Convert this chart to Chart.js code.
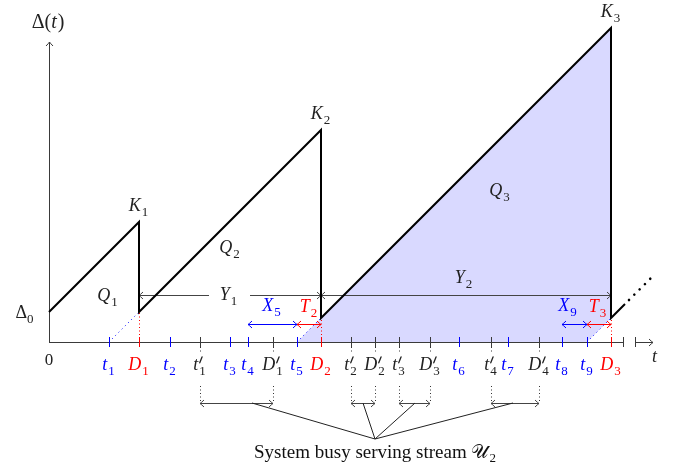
<!DOCTYPE html>
<html>
<head>
<meta charset="utf-8">
<script src="https://cdn.jsdelivr.net/npm/chart.js@4.4.1/dist/chart.umd.min.js"></script>
<style>
html,body{margin:0;padding:0;background:#fff;}
canvas{display:block;}
</style>
</head>
<body>
<canvas id="c" width="673" height="472"></canvas>
<script>
// ---- data (time / age units) ----
const arrivalTimes = [60, 121, 181, 199, 248, 410, 459, 513, 538];           // t1..t9 (stream 1)
const arrivalLabels = ["t_1","t_2","t_3","t_4","t_5","t_6","t_7","t_8","t_9"];
const departureTimes = [90, 272, 562];                                         // D1..D3
const departureLabels = ["D_1","D_2","D_3"];
const otherTimes = [151, 224, 302, 326, 350, 381, 442, 490];                   // stream 2 arrivals / departures
const otherLabels = ["t'_1","D'_1","t'_2","D'_2","t'_3","D'_3","t'_4","D'_4"];
const ageTimes = [0, 90, 90, 272, 272, 562, 562, 576];                        // age curve Δ(t)
const ageValues = [30, 120, 30, 212, 24, 314, 24, 38];
const tailTimes = [580, 603];
const tailValues = [42, 65];
const peakLabels = ["K_1","K_2","K_3"];
const areaLabels = ["Q_1","Q_2","Q_3"];
const busyLinkTimes = [203, 314, 366, 464];
const busyHub = [326, -97];
const axisEnd = 574, axisArrowStart = 586, axisArrowEnd = 604;

const FONT = '"Liberation Serif", "Times New Roman", serif';

function mathLayout(ctx, str, size) {
  const chars = Array.from(str);
  const items = [];
  let i = 0;
  while (i < chars.length) {
    const base = chars[i]; i++;
    let sup = false, sub = null;
    if (chars[i] === "'") { sup = true; i++; }
    if (chars[i] === "_") { sub = chars[i + 1]; i += 2; }
    items.push({ base, sup, sub });
  }
  let w = 0;
  const ssz = Math.round(size * 0.7);
  for (const it of items) {
    const italic = /[A-Za-z]/.test(it.base);
    it.font = (italic ? "italic " : "") + size + "px " + FONT;
    ctx.font = it.font;
    it.bw = ctx.measureText(it.base).width + (italic ? 1 : 0);
    let ew = 0;
    it.sfont = ssz + "px " + FONT;
    ctx.font = it.sfont;
    if (it.sub) ew = Math.max(ew, ctx.measureText(it.sub).width + 1);
    if (it.sup) ew = Math.max(ew, 5);
    it.ew = ew;
    w += it.bw + ew;
  }
  return { items, w, ssz };
}
function drawMath(ctx, str, cx, cy, color, size) {
  size = size || 18;
  const L = mathLayout(ctx, str, size);
  let x = cx - L.w / 2;
  const base = cy + size * 0.3;
  ctx.fillStyle = color;
  ctx.strokeStyle = color;
  ctx.textAlign = "left";
  ctx.textBaseline = "alphabetic";
  for (const it of L.items) {
    ctx.font = it.font;
    ctx.fillText(it.base, x, base);
    x += it.bw;
    ctx.font = it.sfont;
    if (it.sup) {
      ctx.save(); ctx.lineWidth = 1.3; ctx.lineCap = "round";
      ctx.beginPath();
      ctx.moveTo(x + 0.5, base - size * 0.42);
      ctx.lineTo(x + 2.8, base - size * 0.75);
      ctx.stroke(); ctx.restore();
    }
    if (it.sub) ctx.fillText(it.sub, x, base + size * 0.24);
    x += it.ew;
  }
}

const diagram = {
  id: "diagram",
  beforeDraw(chart) {
    const c = chart.ctx;
    c.save(); c.fillStyle = "#fff"; c.fillRect(0, 0, chart.width, chart.height); c.restore();
  },
  beforeDatasetsDraw(chart) {
    const ctx = chart.ctx, xs = chart.scales.x, ys = chart.scales.y;
    const X = v => xs.getPixelForValue(v), Y = v => ys.getPixelForValue(v);
    const cr = p => Math.round(p) + 0.5;
    function line(x1, y1, x2, y2, color, w, dash) {
      ctx.save();
      ctx.strokeStyle = color; ctx.lineWidth = w || 1;
      ctx.setLineDash(dash || []);
      ctx.beginPath(); ctx.moveTo(x1, y1); ctx.lineTo(x2, y2); ctx.stroke();
      ctx.restore();
    }
    function head(x, y, dir, color) { // dir: +1 right, -1 left, 'up'
      ctx.save(); ctx.strokeStyle = color; ctx.lineWidth = 1;
      ctx.beginPath();
      if (dir === "up") {
        ctx.moveTo(x - 3.5, y + 4); ctx.quadraticCurveTo(x - 1, y + 1.5, x, y); ctx.quadraticCurveTo(x + 1, y + 1.5, x + 3.5, y + 4);
      } else {
        ctx.moveTo(x - dir * 4, y - 3.5); ctx.quadraticCurveTo(x - dir * 1.5, y - 1, x, y); ctx.quadraticCurveTo(x - dir * 1.5, y + 1, x - dir * 4, y + 3.5);
      }
      ctx.stroke(); ctx.restore();
    }
    function dbl(t1, t2, age, color) {
      const y = cr(Y(age));
      line(X(t1), y, X(t2), y, color, 1);
      head(X(t1), y, -1, color); head(X(t2), y, 1, color);
    }
    // shaded Q3
    const t5 = arrivalTimes[4], t9 = arrivalTimes[8], D3 = departureTimes[2];
    ctx.save();
    ctx.fillStyle = "#d9d9ff";
    ctx.beginPath();
    ctx.moveTo(X(t5), Y(0)); ctx.lineTo(X(D3), Y(ageValues[5])); ctx.lineTo(X(D3), Y(ageValues[6])); ctx.lineTo(X(t9), Y(0));
    ctx.closePath(); ctx.fill(); ctx.restore();

    const axCol = "#3a3a3a";
    // axes
    const y0 = cr(Y(0)), x0 = cr(X(0));
    line(x0, y0, x0, Y(300), axCol, 1);
    head(x0, Y(300), "up", axCol);
    line(X(0), y0, X(axisEnd), y0, axCol, 1);
    line(cr(X(axisEnd)), Y(5), cr(X(axisEnd)), Y(-5), axCol, 1);
    line(X(axisArrowStart), y0, X(axisArrowEnd), y0, axCol, 1);
    line(cr(X(axisArrowStart)), Y(5), cr(X(axisArrowStart)), Y(-5), axCol, 1);
    head(X(axisArrowEnd), y0, 1, axCol);

    // ticks
    arrivalTimes.forEach(t => line(cr(X(t)), Y(5), cr(X(t)), Y(-5), "#0000ff", 1));
    departureTimes.forEach(t => line(cr(X(t)), Y(5), cr(X(t)), Y(-5), "#ff0000", 1));
    otherTimes.forEach(t => {
      line(cr(X(t)), Y(5), cr(X(t)), Y(-5), axCol, 1);
      line(cr(X(t)), Y(-5), cr(X(t)), Y(-10), "#333", 1, [1, 2.5]);
      line(cr(X(t)), Y(-44), cr(X(t)), Y(-60), "#333", 1, [1, 2.5]);
    });
    // red dotted verticals and blue dotted diagonals
    const dropIdx = [0, 4, 8];
    departureTimes.forEach((d, k) => {
      const t = arrivalTimes[dropIdx[k]];
      line(cr(X(d)), Y(0), cr(X(d)), Y(d - t), "#ff0000", 1, [1, 2.5]);
      line(X(t), Y(0), X(d), Y(d - t), "#0000ff", 1, [1, 3.5]);
    });

    // Y1, Y2 arrows
    const yA = cr(Y(47));
    const D1 = departureTimes[0], D2 = departureTimes[1];
    line(X(D1), yA, X(160), yA, "#444", 1);
    line(X(201), yA, X(D2), yA, "#444", 1);
    head(X(D1), yA, -1, "#444"); head(X(D2), yA, 1, "#444");
    line(X(D2), yA, X(D3), yA, "#444", 1);
    head(X(D2), yA, -1, "#444"); head(X(D3), yA, 1, "#444");

    // X, T arrows
    dbl(arrivalTimes[3], arrivalTimes[4], 18, "#0000ff");
    dbl(arrivalTimes[4], D2, 18, "#ff0000");
    dbl(arrivalTimes[7], arrivalTimes[8], 18, "#0000ff");
    dbl(arrivalTimes[8], D3, 18, "#ff0000");

    // busy brackets
    for (let k = 0; k < 4; k++) dbl(otherTimes[2 * k], otherTimes[2 * k + 1], -61, "#444");
    busyLinkTimes.forEach(t => line(X(t), Y(-61), X(busyHub[0]), Y(busyHub[1]), "#222", 1));
  },
  afterDatasetsDraw(chart) {
    const ctx = chart.ctx, xs = chart.scales.x, ys = chart.scales.y;
    const X = v => xs.getPixelForValue(v), Y = v => ys.getPixelForValue(v);
    ctx.save();
    const ly = Y(-23);
    arrivalTimes.forEach((t, i) => drawMath(ctx, arrivalLabels[i], X(t), ly, "#0000ff"));
    departureTimes.forEach((t, i) => drawMath(ctx, departureLabels[i], X(t), ly, "#ff0000"));
    otherTimes.forEach((t, i) => drawMath(ctx, otherLabels[i], X(t), ly, "#222"));
    // peaks
    const peaks = [[ageTimes[1], ageValues[1]], [ageTimes[3], ageValues[3]], [ageTimes[5], ageValues[5]]];
    peaks.forEach((p, i) => drawMath(ctx, peakLabels[i], X(p[0]), Y(p[1] + 16), "#222"));
    drawMath(ctx, areaLabels[0], X(59), Y(46), "#222");
    drawMath(ctx, areaLabels[1], X(181), Y(94), "#222");
    drawMath(ctx, areaLabels[2], X(451), Y(151), "#222");
    drawMath(ctx, "Y_1", X(180), Y(47), "#222");
    drawMath(ctx, "Y_2", X(415), Y(64), "#222");
    drawMath(ctx, "X_5", X(223), Y(36), "#0000ff");
    drawMath(ctx, "T_2", X(260), Y(35), "#ff0000");
    drawMath(ctx, "X_9", X(519), Y(36), "#0000ff");
    drawMath(ctx, "T_3", X(549), Y(35), "#ff0000");
    drawMath(ctx, "\u0394_0", X(-24), Y(29), "#222");
    drawMath(ctx, "0", X(0), Y(-18), "#222", 17);
    drawMath(ctx, "\u0394(t)", X(-1), Y(320), "#222", 20);
    drawMath(ctx, "t", X(606), Y(-15), "#222");
    // bottom caption
    ctx.fillStyle = "#111";
    ctx.textBaseline = "alphabetic";
    const cap = "System busy serving stream ";
    const sc = "\uD835\uDCB0";
    ctx.font = "19px " + FONT;
    const w1 = ctx.measureText(cap).width;
    const scFont = '19px "DejaVu Serif", "DejaVu Sans", "Noto Sans", serif';
    ctx.font = scFont;
    const w2 = ctx.measureText(sc).width;
    ctx.font = "13px " + FONT;
    const w3 = ctx.measureText("2").width;
    let sx = X(busyHub[0]) - (w1 + w2 + w3 + 1) / 2;
    const by = Y(-116);
    ctx.font = "19px " + FONT; ctx.textAlign = "left";
    ctx.fillText(cap, sx, by); sx += w1;
    ctx.font = scFont; ctx.fillText(sc, sx, by); sx += w2 + 1;
    ctx.font = "13px " + FONT; ctx.fillText("2", sx, by + 4);
    ctx.restore();
  }
};

const curve = ageTimes.map((t, i) => ({ x: t, y: ageValues[i] }));
const tail = tailTimes.map((t, i) => ({ x: t, y: tailValues[i] }));

new Chart(document.getElementById("c"), {
  type: "scatter",
  data: {
    datasets: [
      { data: curve, showLine: true, borderColor: "#000", borderWidth: 2, pointRadius: 0, fill: false, tension: 0 },
      { data: tail, showLine: true, borderColor: "#000", borderWidth: 2.6, borderDash: [0.01, 7.5], borderCapStyle: "round", pointRadius: 0, fill: false }
    ]
  },
  options: {
    responsive: false,
    animation: false,
    layout: { padding: 0 },
    plugins: { legend: { display: false }, tooltip: { enabled: false } },
    scales: {
      x: { type: "linear", min: -49, max: 624, display: false },
      y: { type: "linear", min: -130, max: 342, display: false }
    }
  },
  plugins: [diagram]
});
</script>
</body>
</html>
